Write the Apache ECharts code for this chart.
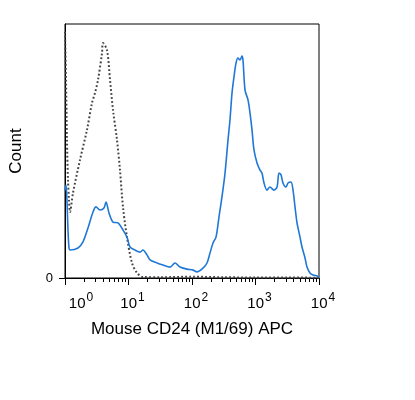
<!DOCTYPE html>
<html>
<head>
<meta charset="utf-8">
<script src="https://cdn.jsdelivr.net/npm/echarts@6/dist/echarts.min.js"></script>
<style>
  html, body { margin: 0; padding: 0; background: #fff; }
  #chart { width: 415px; height: 400px; }
</style>
</head>
<body>
<div id="chart"></div>
<script>
// x in decades (log10 of fluorescence), y in relative count
const blueX = [0.000, 0.016, 0.031, 0.047, 0.063, 0.079, 0.205, 0.283, 0.362, 0.441, 0.488, 0.551, 0.614, 0.646, 0.693, 0.756, 0.835, 0.913, 0.976, 1.024, 1.102, 1.181, 1.228, 1.291, 1.339, 1.449, 1.543, 1.654, 1.732, 1.811, 1.921, 2.016, 2.079, 2.173, 2.236, 2.283, 2.331, 2.378, 2.425, 2.472, 2.520, 2.567, 2.598, 2.630, 2.661, 2.693, 2.724, 2.756, 2.787, 2.803, 2.835, 2.882, 2.913, 2.945, 2.976, 3.024, 3.071, 3.102, 3.134, 3.181, 3.228, 3.291, 3.339, 3.370, 3.402, 3.433, 3.480, 3.512, 3.559, 3.591, 3.622, 3.654, 3.701, 3.732, 3.780, 3.811, 3.858, 3.906, 3.969, 4.000];
const blueY = [34.6, 36.6, 30.7, 18.9, 11.8, 11.0, 11.8, 14.2, 19.7, 26.0, 28.0, 26.8, 27.6, 29.9, 25.6, 22.0, 21.7, 18.9, 16.1, 12.2, 11.0, 10.2, 11.0, 9.1, 7.1, 5.9, 5.1, 4.3, 5.9, 4.3, 3.5, 3.1, 2.4, 3.9, 5.9, 9.8, 13.8, 16.1, 24.0, 31.9, 41.3, 54.3, 62.2, 72.8, 79.1, 84.6, 86.6, 85.8, 87.4, 85.8, 74.0, 70.1, 65.0, 58.3, 50.4, 45.3, 42.5, 41.3, 37.4, 34.6, 35.8, 34.6, 35.8, 41.3, 40.6, 37.4, 35.8, 37.4, 37.8, 34.6, 28.0, 21.7, 16.1, 12.2, 7.9, 4.3, 2.0, 1.2, 0.8, 0.4];

const grayX = [0.000, 0.016, 0.031, 0.047, 0.063, 0.079, 0.126, 0.236, 0.346, 0.425, 0.472, 0.520, 0.583, 0.598, 0.661, 0.709, 0.756, 0.819, 0.866, 0.913, 0.976, 1.055, 1.134, 1.228, 1.500, 2.000, 2.500, 3.000, 3.500, 4.000];
const grayY = [96.9, 78.0, 54.3, 38.6, 30.7, 26.0, 33.5, 46.5, 58.3, 68.9, 72.8, 78.0, 88.6, 92.5, 89.8, 78.0, 66.1, 54.3, 42.5, 28.0, 16.1, 5.9, 2.0, 0.4, 0.3, 0.5, 0.3, 0.2, 0.2, 0.1];

const minorTicks = [];
for (let d = 0; d < 4; d++) {
  for (let k = 2; k <= 9; k++) minorTicks.push(d + Math.log10(k));
}

const pairs = (xs, ys) => xs.map((x, i) => [x, ys[i]]);
const font = 'Liberation Sans, Arial, sans-serif';

const chart = echarts.init(document.getElementById('chart'));
chart.setOption({
  animation: false,
  grid: {
    left: 65, right: 96, top: 24, bottom: 122,
    show: true, borderColor: '#000', borderWidth: 1
  },
  xAxis: [
    {
      type: 'value', min: 0, max: 4, interval: 1,
      name: 'Mouse CD24 (M1/69) APC', nameLocation: 'middle', nameGap: 43,
      nameTextStyle: { fontFamily: font, fontSize: 17, color: '#000' },
      splitLine: { show: false },
      axisLine: { lineStyle: { color: '#000', width: 1 } },
      axisTick: { length: 7, lineStyle: { color: '#000' } },
      axisLabel: {
        margin: 14,
        fontFamily: font, fontSize: 15, color: '#000',
        formatter: v => (v === 0 ? '{f|10}{s|' + v + '}' : '{b|10}{s|' + v + '}'),
        rich: {
          b: { fontFamily: font, fontSize: 15, color: '#000', padding: [0, 0, 0, 8] },
          f: { fontFamily: font, fontSize: 15, color: '#000', padding: [0, 0, 0, 32] },
          s: { fontFamily: font, fontSize: 12, color: '#000', padding: [0, 0, 11, 1] }
        }
      }
    },
    {
      type: 'value', min: 0, max: 4, position: 'bottom',
      axisLine: { show: false },
      splitLine: { show: false },
      axisLabel: { show: false },
      axisTick: { customValues: minorTicks, length: 4, lineStyle: { color: '#000' } }
    }
  ],
  yAxis: {
    type: 'value', min: 0, max: 100,
    name: 'Count', nameLocation: 'middle', nameGap: 40, nameRotate: 90,
    nameTextStyle: { fontFamily: font, fontSize: 17, color: '#000' },
    splitLine: { show: false },
    axisLine: { show: true, lineStyle: { color: '#000', width: 1 } },
    axisTick: { customValues: [0], length: 6, lineStyle: { color: '#000' } },
    axisLabel: { customValues: [0], margin: 12, fontFamily: font, fontSize: 13, color: '#000' }
  },
  series: [
    {
      type: 'line', data: pairs(grayX, grayY), symbol: 'none', smooth: 0.3,
      lineStyle: { color: '#444', width: 2, type: [1.8, 2.2] }, z: 2
    },
    {
      type: 'line', data: pairs(blueX, blueY), symbol: 'none', smooth: 0.3,
      lineStyle: { color: '#1f78d6', width: 1.6 }, z: 3
    }
  ]
});
</script>
</body>
</html>
